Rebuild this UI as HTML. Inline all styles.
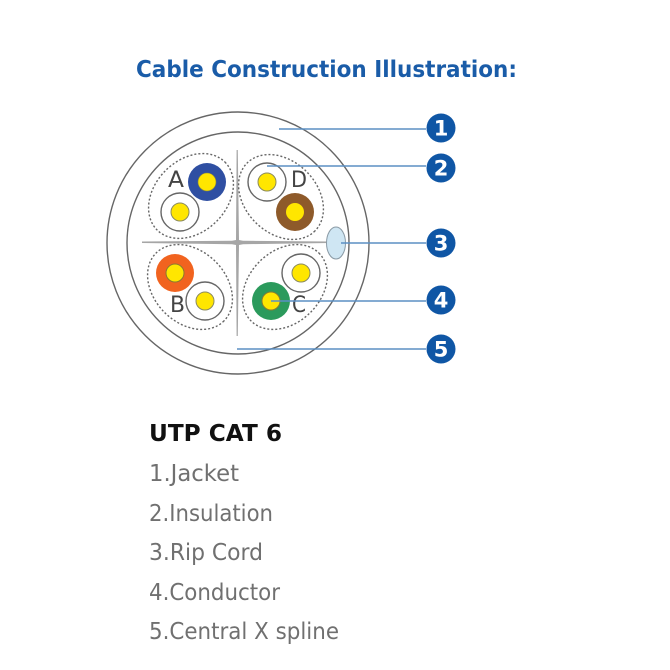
<!DOCTYPE html>
<html>
<head>
<meta charset="utf-8">
<style>
html,body{margin:0;padding:0;background:#fff;width:670px;height:670px;overflow:hidden}
svg{display:block;filter:blur(0.35px)}
text{font-family:"DejaVu Sans","Liberation Sans",sans-serif}
</style>
</head>
<body>
<svg width="670" height="670" viewBox="0 0 670 670" xmlns="http://www.w3.org/2000/svg">
<text x="136" y="77" font-size="23" font-weight="700" fill="#1a5ca8" textLength="381" lengthAdjust="spacingAndGlyphs">Cable Construction Illustration:</text>

<circle cx="238" cy="243" r="131" fill="none" stroke="#666" stroke-width="1.4"/>
<circle cx="238" cy="243" r="111" fill="none" stroke="#666" stroke-width="1.4"/>

<!-- spline -->
<polygon points="142,241.5 232,240.8 236,240 236.6,150 237.8,150 239,240 243,240.8 330,241.5 330,243 243,244.2 239,245 237.8,336 236.6,336 236,245 232,244.2 142,243" fill="#a6a6a6"/>

<!-- dashed ellipses -->
<g fill="none" stroke="#666" stroke-width="1.4" stroke-dasharray="2 2">
<ellipse cx="191" cy="196" rx="48" ry="36" transform="rotate(-45 191 196)"/>
<ellipse cx="281" cy="197" rx="48" ry="36" transform="rotate(45 281 197)"/>
<ellipse cx="190" cy="287" rx="48" ry="36" transform="rotate(45 190 287)"/>
<ellipse cx="285" cy="287" rx="48" ry="36" transform="rotate(-45 285 287)"/>
</g>

<!-- A -->
<circle cx="207" cy="182" r="19" fill="#2f4fa2"/>
<circle cx="207" cy="182" r="9" fill="#ffe600" stroke="#8a8a40" stroke-width=".6"/>
<circle cx="180" cy="212" r="19" fill="#fff" stroke="#666" stroke-width="1.4"/>
<circle cx="180" cy="212" r="9" fill="#ffe600" stroke="#8a8a60" stroke-width="1"/>
<!-- D -->
<circle cx="267" cy="182" r="19" fill="#fff" stroke="#666" stroke-width="1.4"/>
<circle cx="267" cy="182" r="9" fill="#ffe600" stroke="#8a8a60" stroke-width="1"/>
<circle cx="295" cy="212" r="19" fill="#8e5a2a"/>
<circle cx="295" cy="212" r="9" fill="#ffe600"/>
<!-- B -->
<circle cx="175" cy="273" r="19" fill="#f1631f"/>
<circle cx="175" cy="273" r="9" fill="#ffe600" stroke="#8a7a30" stroke-width="1"/>
<circle cx="205" cy="301" r="19" fill="#fff" stroke="#666" stroke-width="1.4"/>
<circle cx="205" cy="301" r="9" fill="#ffe600" stroke="#8a8a60" stroke-width="1"/>
<!-- C -->
<circle cx="301" cy="273" r="19" fill="#fff" stroke="#666" stroke-width="1.4"/>
<circle cx="301" cy="273" r="9" fill="#ffe600" stroke="#8a8a60" stroke-width="1"/>
<circle cx="271" cy="301" r="19" fill="#2b9a5c"/>
<circle cx="271" cy="301" r="9" fill="#ffe600" stroke="#8a7a30" stroke-width="1"/>

<!-- rip cord -->
<ellipse cx="336" cy="243" rx="9.5" ry="16" fill="#cfe6f3" stroke="#8a9aa5" stroke-width="1"/>

<!-- letters -->
<g font-size="22" fill="#444">
<text x="168" y="187" textLength="16" lengthAdjust="spacingAndGlyphs">A</text>
<text x="291" y="187" textLength="16" lengthAdjust="spacingAndGlyphs">D</text>
<text x="170" y="312" textLength="15" lengthAdjust="spacingAndGlyphs">B</text>
<text x="292" y="312" textLength="14" lengthAdjust="spacingAndGlyphs">C</text>
</g>

<!-- leaders -->
<g stroke="#5b8fc4" stroke-width="1.5" fill="none">
<line x1="279" y1="129" x2="426" y2="129"/>
<line x1="267" y1="166" x2="426" y2="166"/>
<line x1="341" y1="243" x2="426" y2="243"/>
<line x1="271" y1="301" x2="426" y2="301"/>
<line x1="237" y1="349" x2="426" y2="349"/>
</g>

<!-- badges -->
<g fill="#0f56a5">
<circle cx="441" cy="128" r="14.5"/>
<circle cx="441" cy="168" r="14.5"/>
<circle cx="441" cy="243" r="14.5"/>
<circle cx="441" cy="300" r="14.5"/>
<circle cx="441" cy="349" r="14.5"/>
</g>
<g font-size="21" font-weight="700" fill="#fff" text-anchor="middle" style="font-family:'Liberation Sans',sans-serif">
<text x="441" y="135.500">1</text>
<text x="441" y="175.500">2</text>
<text x="441" y="250.500">3</text>
<text x="441" y="307.500">4</text>
<text x="441" y="356.500">5</text>
</g>

<text x="149" y="441" font-size="23" font-weight="700" fill="#111" textLength="133" lengthAdjust="spacingAndGlyphs">UTP CAT 6</text>
<g font-size="23" fill="#707070">
<text x="149" y="481" textLength="90" lengthAdjust="spacingAndGlyphs">1.Jacket</text>
<text x="149" y="521" textLength="124" lengthAdjust="spacingAndGlyphs">2.Insulation</text>
<text x="149" y="560" textLength="114" lengthAdjust="spacingAndGlyphs">3.Rip Cord</text>
<text x="149" y="600" textLength="131" lengthAdjust="spacingAndGlyphs">4.Conductor</text>
<text x="149" y="639" textLength="190" lengthAdjust="spacingAndGlyphs">5.Central X spline</text>
</g>
</svg>
</body>
</html>
